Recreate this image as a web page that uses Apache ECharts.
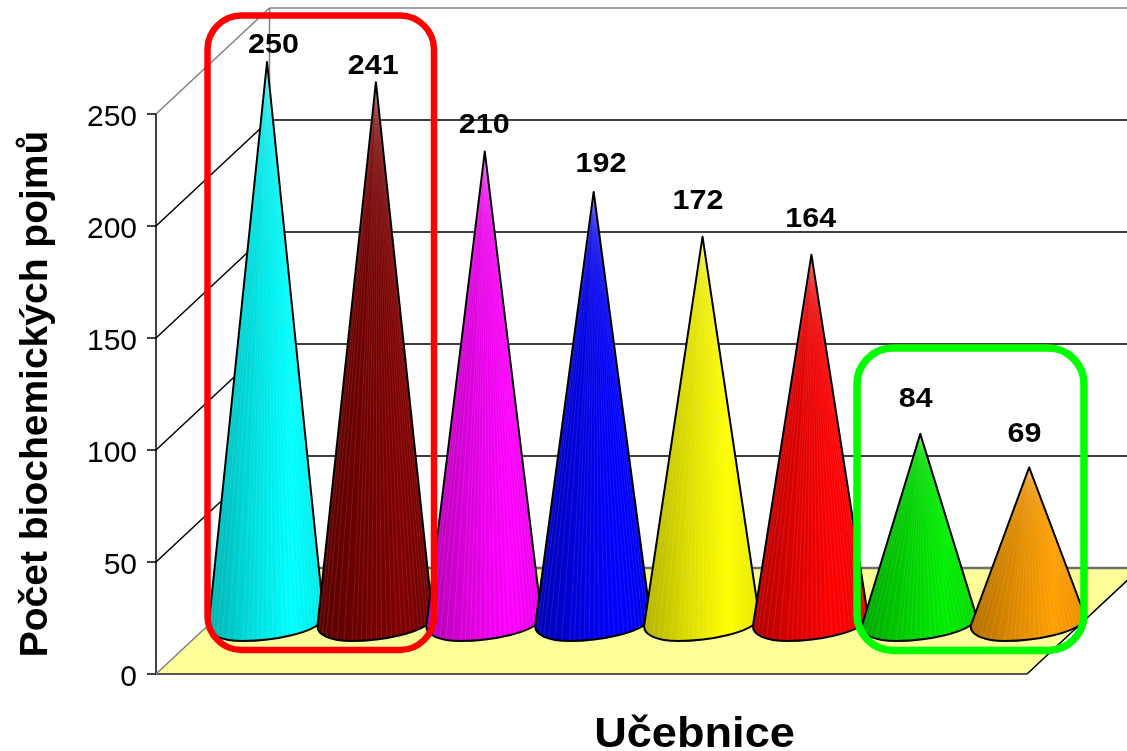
<!DOCTYPE html>
<html><head><meta charset="utf-8">
<style>html,body{margin:0;padding:0;background:#fff}#c{width:1127px;height:751px}</style>
<script src="https://cdn.jsdelivr.net/npm/echarts@6/dist/echarts.min.js"></script>
</head><body><div id="c"></div>
<script>
const categories = ['1','2','3','4','5','6','7','8'];
const values = [250,241,210,192,172,164,84,69];
const coneColors = ['#00FFFF','#800000','#FF00FF','#0000FF','#FFFF00','#FF0000','#00EE00','#FF9F00'];
const yTicks = [0,50,100,150,200,250];
const xName = 'Učebnice';
const yName = 'Počet biochemických pojmů';
// style tables (pixel nudges of the labels against their value position)
const labelDx = [63,54,56,64,52,56,52,52];
const labelDy = [-69,-68,-78,-80,-87,-87,-87,-85];

const DEPTH_X = 113.5, DEPTH_Y = -106;       // 3-D wall offset
const CONE_X = 56.6, CONE_Y = -53;           // cone centre inside the floor
const FONT = '"Liberation Sans", Arial, sans-serif';

function shade(hex, f){
  const n = parseInt(hex.slice(1),16);
  const r=(n>>16)&255, g=(n>>8)&255, b=n&255;
  return 'rgb('+Math.round(r*f)+','+Math.round(g*f)+','+Math.round(b*f)+')';
}
function bez(p0,p1,p2,p3,t){
  const u=1-t;
  return [u*u*u*p0[0]+3*u*u*t*p1[0]+3*u*t*t*p2[0]+t*t*t*p3[0],
          u*u*u*p0[1]+3*u*u*t*p1[1]+3*u*t*t*p2[1]+t*t*t*p3[1]];
}

function renderWall(params, api){
  const v = api.value(0);
  const front = api.coord([0, v]);
  const x0 = params.coordSys.x, y = front[1];
  const back = [x0+DEPTH_X, y+DEPTH_Y];
  const w = api.getWidth();
  const children = [];
  const gray = '#808080';
  const isEdge = (v===0 || v===yTicks[yTicks.length-1]);
  const col = isEdge ? gray : '#000';
  if (v===0){
    const r = x0+params.coordSys.width;
    children.push({type:'polygon',shape:{points:[[x0,y],[r,y],[r+DEPTH_X,y+DEPTH_Y],[x0+DEPTH_X,y+DEPTH_Y]]},
      style:{fill:'#FFFF99',stroke:null}});
    children.push({type:'line',shape:{x1:r,y1:y,x2:r+DEPTH_X,y2:y+DEPTH_Y},style:{stroke:'#000',lineWidth:1.5}});
    children.push({type:'line',shape:{x1:x0,y1:y,x2:r,y2:y},style:{stroke:'#555',lineWidth:2}});
  }
  if (v===yTicks[yTicks.length-1]){
    const b0 = api.coord([0,0])[1];
    children.push({type:'line',shape:{x1:back[0],y1:back[1],x2:back[0],y2:b0+DEPTH_Y},style:{stroke:gray,lineWidth:1.5}});
  }
  children.push({type:'line',shape:{x1:x0,y1:y,x2:back[0],y2:back[1]},style:{stroke:col,lineWidth:1.5}});
  children.push({type:'line',shape:{x1:back[0],y1:back[1],x2:w,y2:back[1]},style:{stroke:v===0?'#707070':col,lineWidth:v===0?2.4:1.5}});
  return {type:'group',children};
}

function renderCone(params, api){
  const i = params.dataIndex;
  const v = api.value(1);
  const p = api.coord([i, v]);
  const cx = p[0]+CONE_X, ay = p[1]+CONE_Y+1;
  const by = api.coord([i, 0])[1]+CONE_Y;
  const color = coneColors[i];
  const L=[cx-58.5,by+5], R=[cx+57,by-2];
  const s1=[L,[cx-58.5,by+14],[cx-46,by+20],[cx-24,by+20]];
  const s2=[[cx-24,by+20],[cx+6,by+20],[cx+48,by+12],R];
  const d = 'M'+cx+' '+ay+'L'+L[0]+' '+L[1]+
    'C'+s1[1].join(' ')+' '+s1[2].join(' ')+' '+s1[3].join(' ')+
    'C'+s2[1].join(' ')+' '+s2[2].join(' ')+' '+s2[3].join(' ')+'Z';
  const N1=8,N2=20;
  let st='';
  for(let k=1;k<N1;k++){const q=bez(s1[0],s1[1],s1[2],s1[3],k/N1);st+='M'+cx+' '+ay+'L'+q[0]+' '+q[1];}
  for(let k=0;k<N2;k++){const q=bez(s2[0],s2[1],s2[2],s2[3],k/N2);st+='M'+cx+' '+ay+'L'+q[0]+' '+q[1];}
  const fill = new echarts.graphic.LinearGradient(0,0,1,0,[
    {offset:0,color:shade(color,.7)},{offset:.35,color:shade(color,.85)},
    {offset:.72,color:shade(color,1)},{offset:1,color:shade(color,.9)}]);
  const rect = {x:L[0],y:ay,width:R[0]-L[0],height:by+20-ay};
  return {type:'group',children:[
    {type:'path',shape:{pathData:d,layout:'cover',x:rect.x,y:rect.y,width:rect.width,height:rect.height},
      style:{fill:fill,stroke:null}},
    {type:'path',shape:{pathData:st,layout:'cover',x:rect.x,y:rect.y,width:rect.width,height:rect.height},
      style:{fill:null,stroke:'rgba(255,255,255,0.14)',lineWidth:0.7}},
    {type:'path',shape:{pathData:d,layout:'cover',x:rect.x,y:rect.y,width:rect.width,height:rect.height},
      style:{fill:null,stroke:'#000',lineWidth:2,lineJoin:'round'}},
    {type:'text',x:p[0]+labelDx[i],y:p[1]+labelDy[i],scaleX:1.09,
      style:{text:String(values[i]),x:0,y:0,align:'center',verticalAlign:'middle',
        fill:'#000',font:'bold 28px '+FONT}}
  ]};
}

const chart = echarts.init(document.getElementById('c'),null,{renderer:'canvas'});
chart.setOption({
  animation:false,
  backgroundColor:'#fff',
  grid:{left:156,right:100,top:114,bottom:77,containLabel:false,outerBoundsMode:'none'},
  xAxis:{type:'category',data:categories,
    axisLine:{show:false},axisTick:{show:false},axisLabel:{show:false},splitLine:{show:false}},
  yAxis:{type:'value',min:0,max:250,interval:50,
    axisLine:{show:true,lineStyle:{color:'#000',width:1.5}},
    axisTick:{show:true,length:9,lineStyle:{color:'#000',width:1.5}},
    axisLabel:{margin:19,formatter:'{t|{value}}',
      rich:{t:{fontFamily:FONT,fontSize:30,color:'#000',padding:[8,0,0,0]}}},
    splitLine:{show:false},
    name:yName,nameLocation:'middle',nameGap:100,nameRotate:90,
    nameTextStyle:{fontFamily:FONT,fontWeight:'bold',fontSize:39,color:'#000'}},
  graphic:[
    {type:'rect',z:100,shape:{x:207.5,y:15.5,width:226.5,height:634.5,r:34},style:{fill:null,stroke:'#FF0000',lineWidth:6.5}},
    {type:'rect',z:100,shape:{x:857,y:348,width:227,height:302.5,r:36},style:{fill:null,stroke:'#00FF00',lineWidth:7.5}},
    {type:'text',z:100,x:694.5,y:735,scaleX:1.075,style:{text:xName,x:0,y:0,align:'center',verticalAlign:'middle',fill:'#000',font:'bold 42px '+FONT}}
  ],
  series:[
    {type:'custom',name:'wall',coordinateSystem:'cartesian2d',z:1,clip:false,silent:true,
      encode:{y:0},data:yTicks.map(t=>[t]),renderItem:renderWall},
    {type:'custom',name:'cones',coordinateSystem:'cartesian2d',z:5,clip:false,silent:true,
      encode:{x:0,y:1},data:values.map((v,i)=>[i,v]),renderItem:renderCone}
  ]
});
</script></body></html>
